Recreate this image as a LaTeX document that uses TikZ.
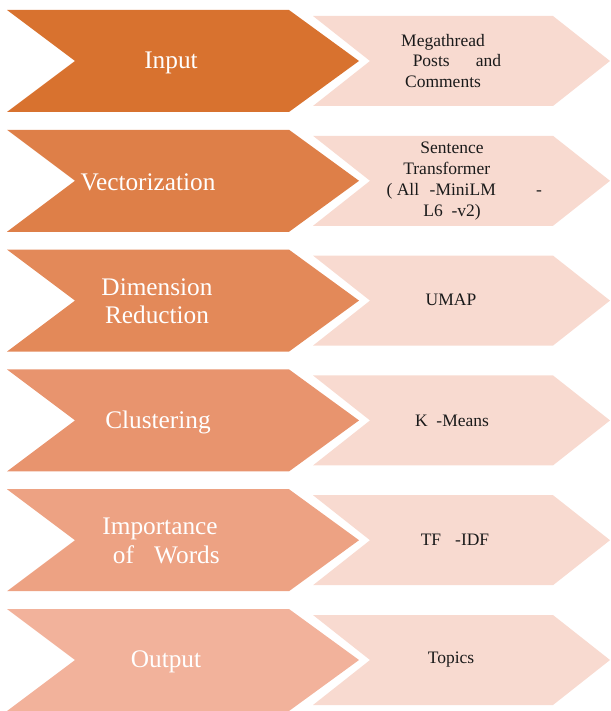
\documentclass[tikz,border=0pt]{standalone}
\usepackage{fontspec}
\newfontfamily\tnr{Liberation Serif}
\definecolor{cA}{HTML}{D8722F}
\definecolor{cB}{HTML}{DE7F48}
\definecolor{cC}{HTML}{E38959}
\definecolor{cD}{HTML}{E8946E}
\definecolor{cE}{HTML}{EDA283}
\definecolor{cF}{HTML}{F2B29B}
\definecolor{cR}{HTML}{F8DAD0}
\definecolor{cT}{HTML}{1A1A1A}
\begin{document}
\begin{tikzpicture}[x=1pt,y=-1pt,
  lefttext/.style={text=white,font=\tnr\fontsize{25.3}{28.5}\selectfont,align=center,inner sep=0pt},
  righttext/.style={text=cT,font=\tnr\fontsize{17.5}{20.8}\selectfont,align=center,inner sep=0pt},
  rightbox/.style={fill=cR}]
\useasboundingbox (0,0) rectangle (610,711);
\newcommand{\chevrows}[2]{%
  \fill[rightbox] (313,16+#1) -- (553,16+#1) -- (610,61+#1) -- (553,106+#1) -- (313,106+#1) -- (370,61+#1) -- cycle;
  \fill[#2] (7,10+#1) -- (289,10+#1) -- (359,61+#1) -- (289,112+#1) -- (7,112+#1) -- (75,61+#1) -- cycle;
}
\chevrows{0}{cA}
\chevrows{119.8}{cB}
\chevrows{239.6}{cC}
\chevrows{359.4}{cD}
\chevrows{479.2}{cE}
\chevrows{599}{cF}
% left labels
\node[lefttext] (l1) at (171,62.5) {Input};
\node[lefttext] (l2) at (148,182.3) {Vectorization};
\node[lefttext] (l3) at (157,301) {Dimension\\Reduction};
\node[lefttext] (l4) at (158,422) {Clustering};
\node[lefttext] (l5) at (160,541) {Importance\\\hspace{0.5em}of\hspace{0.8em}Words};
\node[lefttext] (l6) at (166,661.5) {Output};
% right labels
\node[righttext] (r1) at (443,61) {Megathread\\\hspace{1.6em}Posts\hspace{1.5em}and\\Comments};
\node[righttext] (r2) at (452,181) {Sentence\\\hspace{-0.6em}Transformer\\\hspace{1.4em}( All\hspace{0.6em}-MiniLM\hspace{2.3em}-\\L6\hspace{0.5em}-v2)};
\node[righttext] (r3) at (451,300) {UMAP};
\node[righttext] (r4) at (452,420.5) {K\hspace{0.5em}-Means};
\node[righttext] (r5) at (455,540) {TF\hspace{0.8em}-IDF};
\node[righttext] (r6) at (451,660) {Topics};
\end{tikzpicture}
\end{document}
